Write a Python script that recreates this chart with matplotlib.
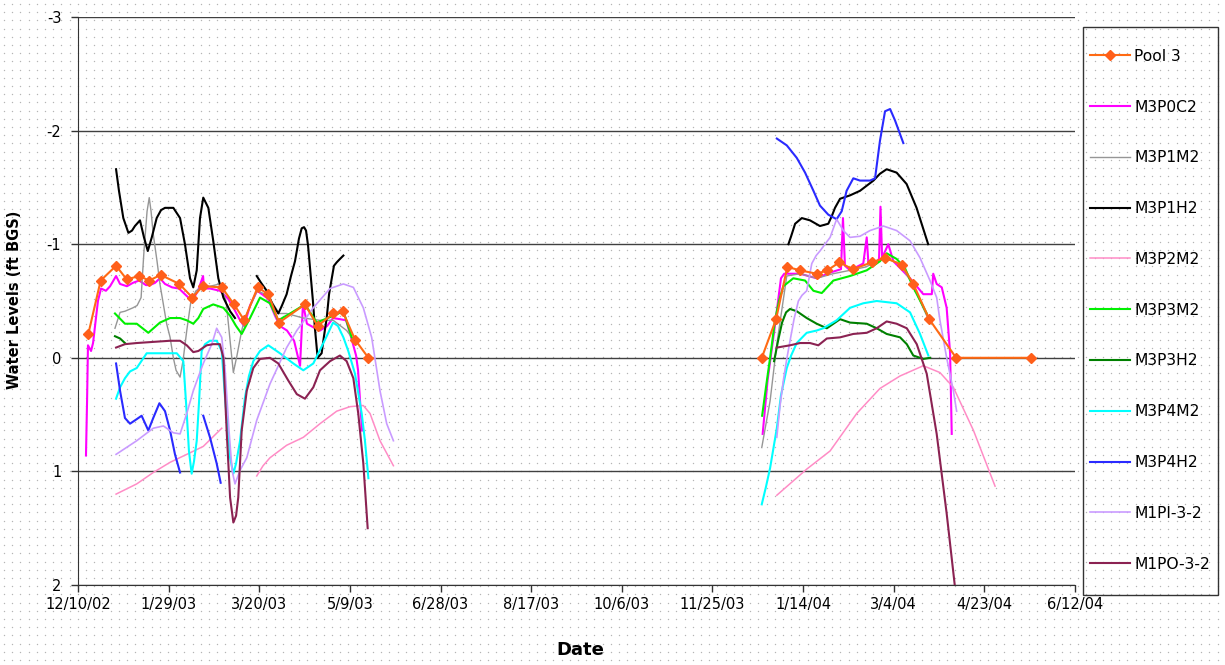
import numpy as np
import matplotlib
matplotlib.use("Agg")
import matplotlib.pyplot as plt
import matplotlib.dates as mdates
from matplotlib.patches import Rectangle
from matplotlib.ticker import FuncFormatter
from datetime import datetime

plt.rcParams["font.family"] = ["DejaVu Sans"]
plt.rcParams["axes.unicode_minus"] = False

START = datetime(2002, 12, 10)
END = datetime(2004, 6, 12)
NA = float("nan")

# x = days since 12/10/02, y = water level (ft BGS, negative = above ground)
pool3_days = [5.7, 12.5, 21.0, 26.9, 33.7, 39.3, 45.6, 55.9, 63.1, 68.8, 79.3, 86.1, 91.7, 99.1,
              105.0, 110.9, 125.2, 132.2, 140.8, 146.0, 152.8, 160.2, NA,
              377.2, 385.1, 391.3, 398.3, 407.5, 413.4, 420.0, 427.4, 437.9, 445.2, 454.4, 460.8,
              469.6, 484.4, 525.6]
pool3_vals = [-0.21, -0.68, -0.81, -0.69, -0.72, -0.68, -0.73, -0.65, -0.53, -0.63, -0.62, -0.47, -0.33, -0.62,
              -0.56, -0.31, -0.47, -0.28, -0.39, -0.41, -0.16, 0.00, NA,
              0.00, -0.34, -0.80, -0.77, -0.74, -0.77, -0.84, -0.78, -0.84, -0.88, -0.82, -0.65,
              -0.34, 0.00, 0.00]

m3p0c2_days = [4.4, 5.0, 5.5, 7.2, 8.3, 11.0, 12.7, 15.4, 17.7, 21.0, 23.2, 27.0, 30.3, 33.7, 37.5, 39.7,
               42.5, 45.2, 48.0, 51.9, 55.7, 59.6, 62.9, 66.2, 69.0, 69.5, 72.8, 78.3, 82.8, 86.1, 89.4,
               91.6, 94.9, 98.8, 101.5, 104.8, 108.7, 111.4, 115.3, 119.2, 122.5, 124.1, 126.3, 130.8,
               133.5, 137.4, 140.7, 144.5, 147.9, 151.2, 153.4, 154.5, 155.6, 156.7, NA,
               377.7, 380.4, 384.1, 387.8, 389.6, 398.3, 407.5, 414.9, 420.9, 422.0, 423.1, 425.9, 433.2,
               435.1, 436.0, 440.6, 441.9, 442.7, 443.6, 447.0, 449.8, 453.5, 459.0, 466.3, 471.0, 471.8,
               473.7, 476.5, 479.2, 481.1, 482.0]
m3p0c2_vals = [0.86, 0.38, -0.11, -0.06, -0.13, -0.50, -0.61, -0.59, -0.63, -0.72, -0.65, -0.63, -0.66, -0.68,
               -0.64, -0.64, -0.66, -0.70, -0.65, -0.62, -0.61, -0.55, -0.50, -0.59, -0.72, -0.61, -0.61,
               -0.59, -0.52, -0.43, -0.33, -0.28, -0.46, -0.59, -0.56, -0.52, -0.37, -0.28, -0.24, -0.15,
               0.07, -0.48, -0.30, -0.26, -0.24, -0.28, -0.35, -0.34, -0.33, -0.15, -0.02, 0.11, 0.38, 0.64, NA,
               0.67, 0.20, -0.24, -0.70, -0.74, -0.74, -0.70, -0.75, -0.78, -1.23, -0.81, -0.77, -0.83,
               -1.06, -0.84, -0.85, -0.87, -1.33, -0.88, -1.00, -0.85, -0.79, -0.70, -0.56, -0.56, -0.74,
               -0.65, -0.62, -0.44, -0.04, 0.67]

m3p1m2_days = [20.4, 23.2, 25.9, 30.3, 32.6, 34.8, 36.4, 38.1, 39.3, 40.3, 41.5, 43.6, 45.2, 48.9, 50.8,
               52.6, 54.1, 56.3, 57.9, 60.0, 62.3, 65.1, 69.0, 72.8, 78.3, 81.7, 83.9, 85.7, 87.7, 90.3,
               92.1, 98.8, 104.8, 110.9, 115.1, 124.3, 133.5, 140.8, 148.2, 153.8, NA,
               377.2, 381.8, 385.5, 391.0, 398.3, 407.5, 416.5, 425.9, 434.7, 444.1, 453.5, 460.9, 468.2, 470.0]
m3p1m2_vals = [-0.26, -0.40, -0.41, -0.44, -0.46, -0.53, -0.94, -1.29, -1.41, -1.29, -1.09, -0.85, -0.65,
               -0.30, -0.18, 0.00, 0.11, 0.17, 0.03, -0.24, -0.50, -0.59, -0.63, -0.63, -0.65, -0.50,
               -0.15, 0.13, -0.02, -0.24, -0.35, -0.59, -0.55, -0.39, -0.39, -0.35, -0.33, -0.33, -0.24, -0.12, NA,
               0.79, 0.38, -0.12, -0.72, -0.74, -0.70, -0.74, -0.77, -0.80, -0.88, -0.83, -0.63, -0.37, -0.31]

m3p1h2_days = [21.0, 22.6, 25.0, 27.8, 29.8, 31.4, 34.2, 36.4, 38.5, 40.7, 43.4, 45.8, 48.0, 52.6, 56.3,
               59.0, 61.8, 63.6, 65.5, 67.3, 69.1, 71.9, 74.6, 77.4, 80.2, 83.9, 86.6, NA,
               98.6, 101.0, 104.1, 107.0, 110.5, 112.5, 115.1, 117.5, 119.7, 121.9, 123.4, 124.7, 125.8,
               126.9, 128.0, 129.6, 130.7, 132.2, 134.4, 135.7, 137.2, 138.5, 140.0, 141.2, 142.7, 144.5,
               146.4, NA,
               391.9, 393.4, 395.6, 399.3, 403.8, 409.3, 413.9, 415.9, 417.6, 420.4, 425.9, 431.4, 438.8,
               442.4, 446.1, 451.6, 457.1, 462.6, 469.0]
m3p1h2_vals = [-1.66, -1.47, -1.23, -1.10, -1.12, -1.16, -1.21, -1.06, -0.94, -1.06, -1.23, -1.30, -1.32,
               -1.32, -1.23, -1.00, -0.70, -0.62, -0.77, -1.23, -1.41, -1.32, -1.03, -0.70, -0.53, -0.41,
               -0.35, NA,
               -0.72, -0.66, -0.59, -0.48, -0.39, -0.46, -0.56, -0.72, -0.85, -1.05, -1.14, -1.15, -1.12,
               -0.99, -0.79, -0.50, -0.26, 0.00, -0.04, -0.19, -0.35, -0.56, -0.70, -0.81, -0.84, -0.87,
               -0.90, NA,
               -1.00, -1.07, -1.18, -1.23, -1.21, -1.16, -1.18, -1.25, -1.32, -1.40, -1.43, -1.47, -1.56,
               -1.62, -1.66, -1.63, -1.53, -1.32, -1.00]

m3p2m2_days = [21.0, 32.4, 41.5, 50.8, 60.0, 69.1, 79.3, NA,
               98.6, 102.1, 105.9, 115.1, 124.3, 133.5, 142.7, 150.1, 157.4, 161.1, 166.6, 174.0, NA,
               385.5, 402.0, 414.9, 429.6, 442.4, 453.5, 466.3, 475.5, 482.9, 494.0, 505.9]
m3p2m2_vals = [1.20, 1.11, 1.01, 0.92, 0.85, 0.78, 0.62, NA,
               1.04, 0.95, 0.88, 0.77, 0.70, 0.58, 0.47, 0.43, 0.42, 0.49, 0.73, 0.95, NA,
               1.21, 0.98, 0.82, 0.49, 0.27, 0.16, 0.07, 0.13, 0.26, 0.64, 1.13]

m3p3m2_days = [20.4, 25.9, 32.4, 38.8, 45.2, 50.8, 56.3, 60.0, 63.6, 66.4, 69.1, 74.6, 80.2, 83.9, 87.2,
               90.3, 94.9, 100.4, 105.9, 110.5, 117.0, 125.2, 131.7, 140.8, 146.4, 151.0, NA,
               377.4, 379.6, 381.8, 384.5, 386.7, 389.1, 394.6, 401.1, 405.7, 410.3, 416.7, 425.9, 435.1,
               442.4, 446.1, 451.6, 456.2, 460.8, 468.2]
m3p3m2_vals = [-0.39, -0.30, -0.30, -0.22, -0.31, -0.35, -0.35, -0.33, -0.30, -0.35, -0.43, -0.47, -0.44,
               -0.37, -0.28, -0.21, -0.35, -0.53, -0.48, -0.33, -0.39, -0.47, -0.31, -0.37, -0.41, -0.18, NA,
               0.51, 0.25, 0.00, -0.33, -0.50, -0.63, -0.70, -0.68, -0.59, -0.57, -0.68, -0.72, -0.77,
               -0.85, -0.92, -0.87, -0.79, -0.62, -0.39]

m3p3h2_days = [20.4, 23.2, 25.9, NA,
               384.0, 386.2, 388.4, 390.6, 392.8, 396.5, 402.0, 407.5, 413.1, 420.4, 425.9, 435.1, 440.6,
               446.1, 453.5, 457.2, 460.8, 466.3, 470.0]
m3p3h2_vals = [-0.19, -0.17, -0.13, NA,
               0.03, -0.15, -0.31, -0.40, -0.43, -0.41, -0.35, -0.30, -0.26, -0.34, -0.31, -0.30, -0.26,
               -0.21, -0.18, -0.12, -0.02, 0.01, 0.00]

m3p4m2_days = [21.0, 23.2, 25.9, 28.7, 32.4, 37.9, 43.4, 49.8, 54.5, 58.1, 59.0, 60.0, 61.2, 62.7, 64.0,
               65.5, 66.8, 68.2, 70.1, 72.8, 76.5, 79.3, 81.1, 83.9, 85.7, 87.2, 89.4, 92.1, 94.3, 96.7,
               100.4, 105.0, 111.4, 118.8, 124.3, 129.8, 137.2, 140.7, 143.4, 146.4, 149.1, 152.8, 156.5,
               158.3, 160.2, NA,
               377.2, 379.6, 381.8, 385.5, 387.8, 391.0, 393.4, 396.5, 402.0, 407.5, 411.1, 418.5, 425.9,
               433.2, 440.6, 451.6, 459.0, 464.5, 469.1]
m3p4m2_vals = [0.36, 0.26, 0.18, 0.12, 0.09, -0.04, -0.04, -0.04, -0.04, 0.03, 0.25, 0.49, 0.82, 1.02, 0.91,
               0.73, 0.38, -0.06, -0.12, -0.15, -0.15, -0.06, 0.35, 0.88, 1.02, 0.93, 0.73, 0.35, 0.16, 0.03,
               -0.06, -0.11, -0.04, 0.05, 0.11, 0.05, -0.19, -0.31, -0.28, -0.18, -0.06, 0.14, 0.49,
               0.73, 1.06, NA,
               1.29, 1.13, 0.97, 0.62, 0.33, 0.09, -0.02, -0.13, -0.22, -0.24, -0.26, -0.33, -0.44,
               -0.48, -0.50, -0.48, -0.40, -0.21, -0.02]

m3p4h2_days = [21.0, 23.2, 25.9, 28.7, 32.4, 35.1, 38.8, 41.5, 44.9, 48.0, 50.8, 53.5, 56.3, NA,
               69.1, 72.8, 76.5, 78.7, NA,
               385.5, 391.0, 396.5, 401.1, 405.7, 409.3, 413.9, 418.5, 421.3, 424.0, 427.7, 431.4, 436.9,
               439.7, 442.4, 445.2, 448.0, 450.7, 455.3]
m3p4h2_vals = [0.05, 0.29, 0.53, 0.58, 0.54, 0.51, 0.64, 0.53, 0.40, 0.47, 0.64, 0.85, 1.01, NA,
               0.51, 0.70, 0.93, 1.10, NA,
               -1.93, -1.87, -1.76, -1.63, -1.47, -1.34, -1.26, -1.22, -1.29, -1.47, -1.58, -1.56, -1.56,
               -1.58, -1.91, -2.17, -2.19, -2.09, -1.89]

m1pi_days = [21.0, 32.4, 41.5, 47.1, 52.6, 56.3, 60.0, 63.6, 69.1, 73.8, 76.5, 79.3, 81.1, 83.3, 85.0,
             86.6, 89.4, 93.1, 98.6, 105.9, 115.1, 120.7, 129.8, 139.0, 146.4, 151.9, 157.4, 162.0, 166.6,
             170.3, 174.0, NA,
             385.5, 387.3, 389.1, 391.0, 392.8, 395.0, 397.4, 399.4, 402.0, 404.8, 407.2, 409.3, 414.9,
             418.5, 422.2, 425.9, 431.4, 436.9, 444.3, 451.6, 459.0, 464.5, 470.0, 473.7, 475.5, 479.2,
             482.9, 484.7]
m1pi_vals = [0.85, 0.73, 0.62, 0.60, 0.66, 0.67, 0.49, 0.29, 0.05, -0.12, -0.26, -0.18, 0.09, 0.64, 0.99,
             1.11, 0.99, 0.88, 0.55, 0.23, -0.09, -0.24, -0.44, -0.61, -0.65, -0.62, -0.44, -0.18, 0.29,
             0.58, 0.73, NA,
             0.70, 0.42, 0.20, 0.01, -0.15, -0.34, -0.50, -0.55, -0.59, -0.83, -0.90, -0.94, -1.06,
             -1.22, -1.12, -1.06, -1.07, -1.12, -1.16, -1.12, -1.03, -0.88, -0.68, -0.53, -0.33, 0.00,
             0.29, 0.47]

m1po_days = [21.0, 25.9, 32.4, 41.5, 50.8, 56.3, 60.0, 63.6, 66.4, 71.0, 74.6, 78.3, 80.2, 82.0, 83.9,
             85.7, 87.2, 88.4, 90.3, 93.1, 96.7, 100.4, 105.9, 110.5, 116.0, 120.7, 125.2, 129.8, 133.5,
             139.0, 144.5, 148.2, 151.9, 154.6, 157.4, 159.8, NA,
             385.5, 392.8, 398.3, 403.8, 408.4, 413.1, 420.4, 427.7, 435.1, 440.6, 446.1, 451.6, 457.2,
             462.7, 468.2, 473.7, 479.2, 483.8]
m1po_vals = [-0.09, -0.12, -0.13, -0.14, -0.15, -0.15, -0.11, -0.05, -0.06, -0.11, -0.12, -0.12, 0.00,
             0.64, 1.23, 1.45, 1.39, 1.23, 0.64, 0.29, 0.09, 0.01, 0.00, 0.05, 0.20, 0.32, 0.36, 0.26,
             0.11, 0.03, -0.02, 0.03, 0.18, 0.49, 0.93, 1.50, NA,
             -0.09, -0.11, -0.13, -0.13, -0.11, -0.17, -0.18, -0.21, -0.22, -0.26, -0.32, -0.30, -0.26,
             -0.12, 0.14, 0.67, 1.37, 2.02]

series = [
    ("M3P0C2", m3p0c2_days, m3p0c2_vals, "#FF00FF", 1.5),
    ("M3P1M2", m3p1m2_days, m3p1m2_vals, "#969696", 1.0),
    ("M3P1H2", m3p1h2_days, m3p1h2_vals, "#000000", 1.5),
    ("M3P2M2", m3p2m2_days, m3p2m2_vals, "#FF8CC6", 1.1),
    ("M3P3M2", m3p3m2_days, m3p3m2_vals, "#00F000", 1.5),
    ("M3P3H2", m3p3h2_days, m3p3h2_vals, "#008000", 1.5),
    ("M3P4M2", m3p4m2_days, m3p4m2_vals, "#00FFFF", 1.5),
    ("M3P4H2", m3p4h2_days, m3p4h2_vals, "#2A2AFF", 1.5),
    ("M1PI-3-2", m1pi_days, m1pi_vals, "#C99BFF", 1.2),
    ("M1PO-3-2", m1po_days, m1po_vals, "#8B2252", 1.5),
]

W, H = 1225, 665
fig = plt.figure(figsize=(W / 100, H / 100), dpi=100)

# dotted pattern background
bg = fig.add_axes([0, 0, 1, 1], zorder=-5)
bg.set_xlim(0, W)
bg.set_ylim(H, 0)
bg.axis("off")
gx, gy = np.meshgrid(np.arange(4, W, 8.2), np.arange(4, H, 8.2))
bg.scatter(gx.ravel(), gy.ravel(), s=1.0, color="#b5b5b5", linewidths=0)

ax = fig.add_axes([78 / W, 1 - 585 / H, (1075 - 78) / W, (585 - 17) / H])
ax.patch.set_alpha(0)

x0 = mdates.date2num(START)


def xs(days):
    return x0 + np.asarray(days, dtype=float)


handles = []
(h,) = ax.plot(xs(pool3_days), pool3_vals, color="#FF6A13", lw=1.5, marker="D", ms=5.5,
               mfc="#FF5F1A", mec="#FF5F1A", zorder=4, label="Pool 3")
handles.append(h)
for name, d, v, c, lw in series:
    (h,) = ax.plot(xs(d), v, color=c, lw=lw, zorder=3, label=name)
    handles.append(h)

ax.set_xlim(x0, mdates.date2num(END))
ax.set_ylim(2, -3)
ax.set_yticks([-3, -2, -1, 0, 1, 2])
ax.set_yticklabels(["-3", "-2", "-1", "0", "1", "2"])
ax.set_xticks([x0 + 50 * i for i in range(12)])


def fmt_date(x, pos=None):
    d = mdates.num2date(x)
    return f"{d.month}/{d.day}/{d:%y}"


ax.xaxis.set_major_formatter(FuncFormatter(fmt_date))
ax.tick_params(axis="both", labelsize=10.5, length=5, width=1, color="#333333")
ax.tick_params(axis="y", pad=7)
ax.tick_params(axis="x", pad=4)
ax.yaxis.grid(True, color="#404040", lw=1)
ax.set_axisbelow(True)
for s in ["top", "right"]:
    ax.spines[s].set_visible(False)
for s in ["left", "bottom"]:
    ax.spines[s].set_color("#333333")

fig.text(15 / W, 1 - 300 / H, "Water Levels (ft BGS)", rotation=90, ha="center", va="center",
         fontsize=10.5, fontweight="bold")
fig.text(580 / W, 1 - 650 / H, "Date", ha="center", va="center", fontsize=13, fontweight="bold")

# legend with separate frame
fig.add_artist(Rectangle((1083 / W, 1 - 595 / H), 135 / W, 568 / H, transform=fig.transFigure,
                         fill=False, ec="#333333", lw=1))
fig.legend(handles=handles, loc="upper left", bbox_to_anchor=(1082 / W, 1 - 41 / H),
           frameon=False, borderpad=0, labelspacing=2.30, handlelength=2.6, handletextpad=0.25,
           fontsize=11.2, numpoints=1)

fig.savefig("out.png", dpi=100)
